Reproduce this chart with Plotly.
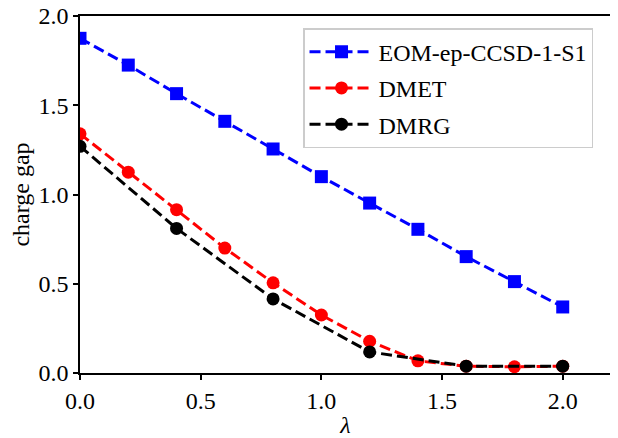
import plotly.graph_objects as go

lam_full = [0.0, 0.2, 0.4, 0.6, 0.8, 1.0, 1.2, 1.4, 1.6, 1.8, 2.0]
eom = [1.875, 1.725, 1.565, 1.41, 1.255, 1.10, 0.952, 0.805, 0.652, 0.512, 0.37]
dmet = [1.34, 1.125, 0.915, 0.70, 0.505, 0.325, 0.178, 0.068, 0.038, 0.035, 0.038]
lam_dmrg = [0.0, 0.4, 0.8, 1.2, 1.6, 2.0]
dmrg = [1.27, 0.81, 0.415, 0.118, 0.038, 0.038]

font = "Liberation Serif, Times New Roman, serif"
fs = 24
dash = "11px,5px"

fig = go.Figure()
fig.add_trace(go.Scatter(x=lam_full, y=eom, name="EOM-ep-CCSD-1-S1", mode="lines+markers",
                         legendgroup="a",
                         line=dict(color="#0000ff", width=3, dash=dash),
                         marker=dict(symbol="square", size=13, color="#0000ff")))
fig.add_trace(go.Scatter(x=lam_full, y=dmet, name="DMET", mode="lines+markers",
                         legendgroup="b",
                         line=dict(color="#ff0000", width=3, dash=dash),
                         marker=dict(symbol="circle", size=13, color="#ff0000")))
fig.add_trace(go.Scatter(x=lam_dmrg, y=dmrg, name="DMRG", mode="lines+markers",
                         legendgroup="c",
                         line=dict(color="#000000", width=3, dash=dash),
                         marker=dict(symbol="circle", size=13, color="#000000")))

axis_common = dict(showline=True, linecolor="black", linewidth=1.5, mirror=True,
                   ticks="outside", ticklen=5, tickwidth=1.5, tickcolor="black",
                   showgrid=False, zeroline=False, automargin=False,
                   ticklabeloverflow="allow",
                   tickfont=dict(family=font, size=fs, color="black"))

fig.update_layout(
    width=610, height=430,
    margin=dict(l=72, r=7, t=8, b=65),
    paper_bgcolor="white", plot_bgcolor="white",
    font=dict(family=font, size=fs, color="black"),
    xaxis=dict(range=[0, 2.2], tickvals=[0, 0.5, 1.0, 1.5, 2.0],
               ticktext=["0.0", "0.5", "1.0", "1.5", "2.0"],
               title=dict(text="<i>λ</i>", standoff=6, font=dict(family=font, size=fs)),
               **axis_common),
    yaxis=dict(range=[0, 2.0], tickvals=[0, 0.5, 1.0, 1.5, 2.0],
               ticktext=["0.0", "0.5", "1.0", "1.5", "2.0"],
               title=dict(text="charge gap", standoff=6, font=dict(family=font, size=fs)),
               **axis_common),
    legend=dict(x=0.42, y=0.966, xanchor="left", yanchor="top",
                bgcolor="rgba(255,255,255,0.8)", bordercolor="#cccccc", borderwidth=1.5,
                font=dict(family=font, size=fs, color="black"),
                itemwidth=64, tracegroupgap=2),
    showlegend=True,
)

fig.write_html("out.html")
